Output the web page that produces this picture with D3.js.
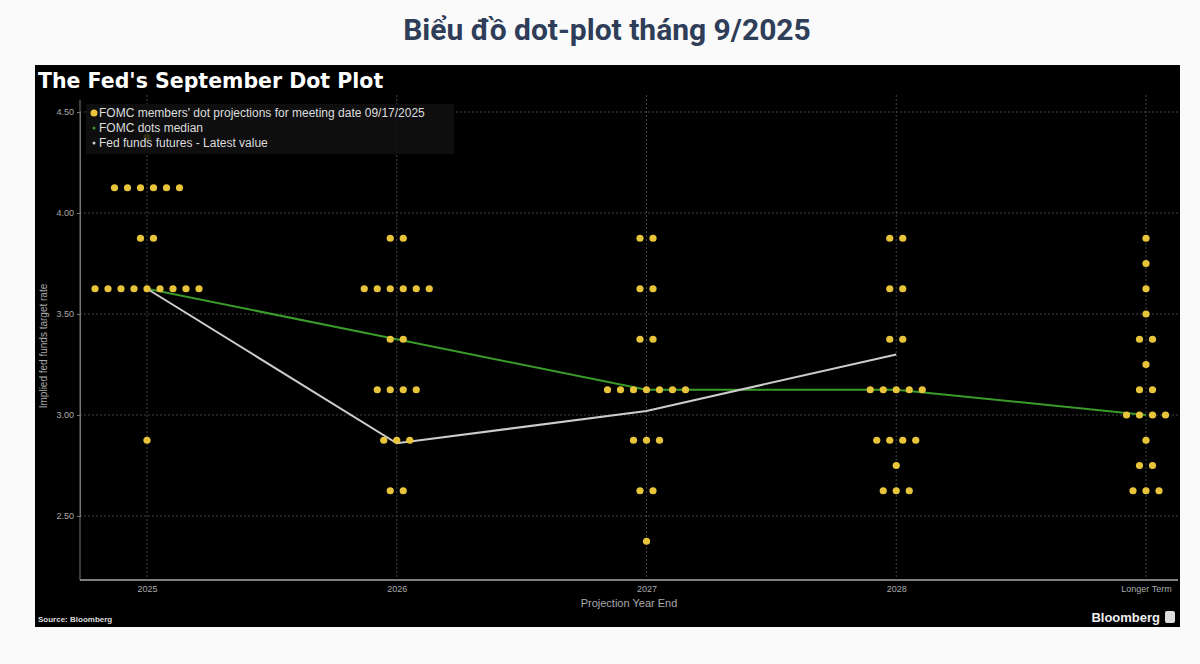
<!DOCTYPE html>
<html><head><meta charset="utf-8">
<script src="https://cdn.jsdelivr.net/npm/d3@7"></script>
<style>body{margin:0;background:#fafafa;font-family:"Liberation Sans",Arial,sans-serif}</style>
</head><body><svg id="c" width="1200" height="664"></svg>
<script>
const categories = ["2025", "2026", "2027", "2028", "Longer Term"];
// [rate, count] per category
const dots2025 = [[4.375,1],[4.125,6],[3.875,2],[3.625,9],[2.875,1]];
const dots2026 = [[3.875,2],[3.625,6],[3.375,2],[3.125,4],[2.875,3],[2.625,2]];
const dots2027 = [[3.875,2],[3.625,2],[3.375,2],[3.125,7],[2.875,3],[2.625,2],[2.375,1]];
const dots2028 = [[3.875,2],[3.625,2],[3.375,2],[3.125,5],[2.875,4],[2.75,1],[2.625,3]];
const dotsLT = [[3.875,1],[3.75,1],[3.625,1],[3.5,1],[3.375,2],[3.25,1],[3.125,2],[3.0,4],[2.875,1],[2.75,2],[2.625,3]];
const medianValues = [3.625, 3.375, 3.125, 3.125, 3.0];
const futuresValues = [3.625, 2.86, 3.02, 3.30];
const yTicks = [2.5, 3.0, 3.5, 4.0, 4.5];

const svg = d3.select("#c");
svg.append("text").attr("x", 607).attr("y", 40).attr("text-anchor", "middle")
  .attr("font-size", 30).attr("font-weight", "bold").attr("fill", "#2e3d58")
  .attr("font-family", "Roboto, sans-serif").text("Biểu đồ dot-plot tháng 9/2025");

svg.append("rect").attr("x", 35).attr("y", 65).attr("width", 1145).attr("height", 562).attr("fill", "#000");
svg.append("text").attr("x", 38).attr("y", 88).attr("fill", "#fff").attr("font-size", 20.5)
  .attr("font-weight", "bold").attr("font-family", "DejaVu Sans").text("The Fed's September Dot Plot");

const x = d3.scalePoint().domain(categories).range([147, 1146]);
const y = d3.scaleLinear().domain([2.5, 4.5]).range([516, 112]);
const grey = "#777";

// gridlines
const g = svg.append("g");
g.selectAll(".hg").data(yTicks).join("line").attr("x1", 80).attr("x2", 1178)
  .attr("y1", d => y(d)).attr("y2", d => y(d)).attr("stroke", "#444").attr("stroke-dasharray", "2,2");
g.selectAll(".vg").data(categories).join("line").attr("x1", d => x(d)).attr("x2", d => x(d))
  .attr("y1", 95).attr("y2", 578).attr("stroke", "#444").attr("stroke-dasharray", "2,2");

// axes
const yAxis = svg.append("g").attr("transform", "translate(80,0)")
  .call(d3.axisLeft(y).tickValues(yTicks).tickFormat(d3.format(".2f")).tickSize(3));
yAxis.select(".domain").attr("stroke", grey);
yAxis.selectAll("line").attr("stroke", grey);
yAxis.selectAll("text").attr("fill", "#aaa").attr("font-size", 9);
svg.append("line").attr("x1", 80).attr("x2", 80).attr("y1", 100).attr("y2", 580).attr("stroke", grey);

const xAxis = svg.append("g").attr("transform", "translate(0,580)")
  .call(d3.axisBottom(x).tickSize(0).tickPadding(6));
xAxis.select(".domain").attr("d", "M80,0H1178").attr("stroke", "#aaa").attr("stroke-width", 1.5);
xAxis.selectAll("text").attr("fill", "#aaa").attr("font-size", 9);

svg.append("text").attr("transform", "translate(47,346) rotate(-90)").attr("text-anchor", "middle")
  .attr("fill", "#aaa").attr("font-size", 10).text("Implied fed funds target rate");
svg.append("text").attr("x", 629).attr("y", 607).attr("text-anchor", "middle")
  .attr("fill", "#aaa").attr("font-size", 11).text("Projection Year End");
svg.append("text").attr("x", 38).attr("y", 622).attr("fill", "#ddd").attr("font-size", 8)
  .attr("font-weight", "bold").text("Source: Bloomberg");
svg.append("text").attr("x", 1160).attr("y", 622).attr("text-anchor", "end").attr("fill", "#eee")
  .attr("font-size", 13).attr("font-weight", "bold").text("Bloomberg");
svg.append("rect").attr("x", 1165).attr("y", 611).attr("width", 10).attr("height", 12).attr("rx", 2).attr("fill", "#ddd");

// lines
const line = d3.line().x((d, i) => x(categories[i])).y(d => y(d));
svg.append("path").datum(medianValues).attr("d", line).attr("fill", "none").attr("stroke", "#3a9a2a").attr("stroke-width", 2);
svg.append("path").datum(futuresValues).attr("d", line).attr("fill", "none").attr("stroke", "#ccc").attr("stroke-width", 2);

// dots
const allDots = [dots2025, dots2026, dots2027, dots2028, dotsLT];
const pts = [];
allDots.forEach((arr, ci) => arr.forEach(([v, n]) => {
  for (let k = 0; k < n; k++) pts.push({ c: categories[ci], v, off: (k - (n - 1) / 2) * 13 });
}));
svg.append("g").selectAll("circle").data(pts).join("circle")
  .attr("cx", d => x(d.c) + d.off).attr("cy", d => y(d.v)).attr("r", 3.6).attr("fill", "#e8c43a");

// legend
const lg = svg.append("g");
lg.append("rect").attr("x", 86).attr("y", 104).attr("width", 368).attr("height", 50).attr("fill", "#111").attr("opacity", 0.85);
const legend = [["FOMC members' dot projections for meeting date 09/17/2025", "#e8c43a", 3.5],
  ["FOMC dots median", "#3a9a2a", 1.5], ["Fed funds futures - Latest value", "#ccc", 1.5]];
legend.forEach(([t, c, r], i) => {
  lg.append("circle").attr("cx", 94).attr("cy", 113 + i * 15).attr("r", r).attr("fill", c);
  lg.append("text").attr("x", 99).attr("y", 117 + i * 15).attr("fill", "#ddd").attr("font-size", 12).text(t);
});
</script></body></html>
